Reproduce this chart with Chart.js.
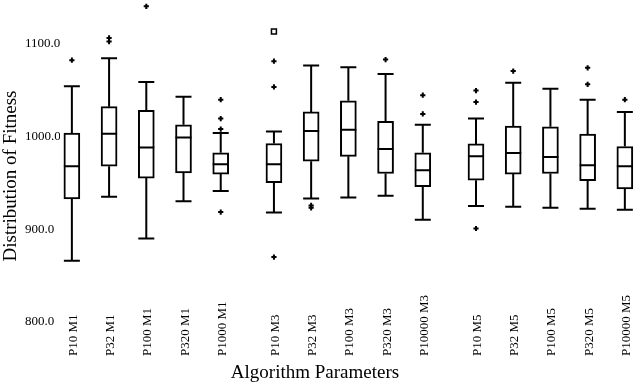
<!DOCTYPE html>
<html>
<head>
<meta charset="utf-8">
<script src="https://cdn.jsdelivr.net/npm/chart.js@4.4.1/dist/chart.umd.min.js"></script>
<style>
html,body{margin:0;padding:0;background:#fff;}
canvas{display:block;}
</style>
</head>
<body>
<canvas id="c" width="640" height="384"></canvas>
<script>
const categories = ['P10 M1','P32 M1','P100 M1','P320 M1','P1000 M1',
                    'P10 M3','P32 M3','P100 M3','P320 M3','P10000 M3',
                    'P10 M5','P32 M5','P100 M5','P320 M5','P10000 M5'];
const lowWhisker  = [866, 935, 890, 930, 941, 918, 933, 934, 936, 910, 925, 924, 923, 922, 921];
const q1          = [932.6, 967.8, 955, 960.6, 959.3, 950, 973.1, 978.4, 959.9, 945.7, 952.8, 959.3, 959.9, 952.1, 943.3];
const medians     = [967.8, 1002.8, 988, 998.6, 969.9, 969.9, 1005.7, 1007.1, 986.2, 963.5, 978.4, 981.9, 977.7, 968.8, 967.8];
const q3          = [1003.5, 1031.9, 1028, 1012.4, 982.3, 992.2, 1026.3, 1038.3, 1016, 982.3, 991.8, 1011, 1010.3, 1002.5, 989];
const highWhisker = [1054, 1084, 1058.5, 1042.6, 1003.5, 1005.3, 1076.3, 1074.5, 1067, 1012.4, 1019.1, 1057.8, 1051.1, 1039.4, 1026.3];
const outliers = [
  [1082], [1106, 1102], [1140], [], [1039.4, 1019.1, 1007.8, 918.4],
  [1080.9, 1053.2, 869.9], [925.5, 923], [], [1082.6], [1044.3, 1024.1],
  [1049.3, 1036.9, 900.7], [1070.2], [], [1073.7, 1056], [1039.4]
];
const extremeOutliers = [[], [], [], [], [], [1112.8], [], [], [], [], [], [], [], [], []];
const yTickValues = [800, 900, 1000, 1100];
const xTitle = 'Algorithm Parameters';
const yTitle = 'Distribution of Fitness';

// position of each box on the linear x axis: 5 boxes per group, extra gap between groups
const GROUP_SIZE = 5, GROUP_GAP = 0.43;
const pos = categories.map((_, k) => (k % GROUP_SIZE) + Math.floor(k / GROUP_SIZE) * (GROUP_SIZE + GROUP_GAP));

const boxData = categories.map((_, k) => ({x: pos[k], y: [q1[k], q3[k]]}));
const outData = [];
outliers.forEach((arr, k) => arr.forEach(v => outData.push({x: pos[k], y: v})));
const extData = [];
extremeOutliers.forEach((arr, k) => arr.forEach(v => extData.push({x: pos[k], y: v})));

const SERIF = '"Liberation Serif", "DejaVu Serif", serif';
const BOX_W = 16;

const boxPlugin = {
  id: 'boxExtras',
  afterDatasetsDraw(chart) {
    const ctx = chart.ctx, xs = chart.scales.x, ys = chart.scales.y;
    ctx.save();
    ctx.strokeStyle = '#000';
    ctx.lineWidth = 2;
    ctx.lineCap = 'butt';
    categories.forEach((_, k) => {
      const x = xs.getPixelForValue(pos[k]);
      const yl = ys.getPixelForValue(lowWhisker[k]);
      const y1 = ys.getPixelForValue(q1[k]);
      const ym = ys.getPixelForValue(medians[k]);
      const y3 = ys.getPixelForValue(q3[k]);
      const yh = ys.getPixelForValue(highWhisker[k]);
      ctx.beginPath();
      ctx.moveTo(x, y3); ctx.lineTo(x, yh);
      ctx.moveTo(x, y1); ctx.lineTo(x, yl);
      ctx.moveTo(x - BOX_W / 2, yh); ctx.lineTo(x + BOX_W / 2, yh);
      ctx.moveTo(x - BOX_W / 2, yl); ctx.lineTo(x + BOX_W / 2, yl);
      ctx.moveTo(x - BOX_W / 2, ym); ctx.lineTo(x + BOX_W / 2, ym);
      ctx.stroke();
    });
    ctx.restore();
  },
  afterDraw(chart) {
    const ctx = chart.ctx, xs = chart.scales.x;
    ctx.save();
    ctx.fillStyle = '#000';
    // x tick labels, rotated, bottom-aligned
    ctx.font = '13px ' + SERIF;
    ctx.textAlign = 'left';
    ctx.textBaseline = 'alphabetic';
    categories.forEach((lab, k) => {
      const x = xs.getPixelForValue(pos[k]);
      ctx.save();
      ctx.translate(x + 5, 356);
      ctx.rotate(-Math.PI / 2);
      ctx.fillText(lab, 0, 0);
      ctx.restore();
    });
    // axis titles
    ctx.font = '19px ' + SERIF;
    ctx.textAlign = 'center';
    ctx.textBaseline = 'middle';
    ctx.fillText(xTitle, 315, 373);
    ctx.save();
    ctx.translate(16, 176);
    ctx.rotate(-Math.PI / 2);
    ctx.textBaseline = 'alphabetic';
    ctx.fillText(yTitle, 0, 0);
    ctx.restore();
    ctx.restore();
  }
};

new Chart(document.getElementById('c'), {
  type: 'bar',
  data: {
    datasets: [
      {
        type: 'bar',
        label: 'box',
        data: boxData,
        backgroundColor: '#fff',
        borderColor: '#000',
        borderWidth: 2,
        borderSkipped: false,
        barThickness: BOX_W,
        order: 2
      },
      {
        type: 'scatter',
        label: 'outliers',
        data: outData,
        pointStyle: 'cross',
        radius: 2.6,
        borderWidth: 2,
        borderColor: '#000',
        backgroundColor: '#000',
        clip: false,
        order: 1
      },
      {
        type: 'scatter',
        label: 'extreme',
        data: extData,
        pointStyle: 'rect',
        radius: 3.5,
        borderWidth: 1.5,
        borderColor: '#000',
        backgroundColor: '#fff',
        clip: false,
        order: 0
      }
    ]
  },
  options: {
    responsive: false,
    animation: false,
    devicePixelRatio: 1,
    layout: {padding: {left: 25, right: 0, top: 0, bottom: 62}},
    plugins: {legend: {display: false}, tooltip: {enabled: false}},
    scales: {
      x: {
        type: 'linear',
        display: false,
        offset: false,
        min: -0.319,
        max: 15.106,
        grid: {display: false}
      },
      y: {
        type: 'linear',
        min: 800,
        max: 1138.4,
        grid: {display: false, drawTicks: false},
        border: {display: false},
        afterFit(scale) { scale.width = 35; },
        afterBuildTicks(scale) { scale.ticks = yTickValues.map(v => ({value: v})); },
        ticks: {
          crossAlign: 'far',
          padding: 0,
          color: '#000',
          font: {family: SERIF, size: 13},
          callback: v => Number(v).toFixed(1)
        }
      }
    }
  },
  plugins: [boxPlugin]
});
</script>
</body>
</html>
